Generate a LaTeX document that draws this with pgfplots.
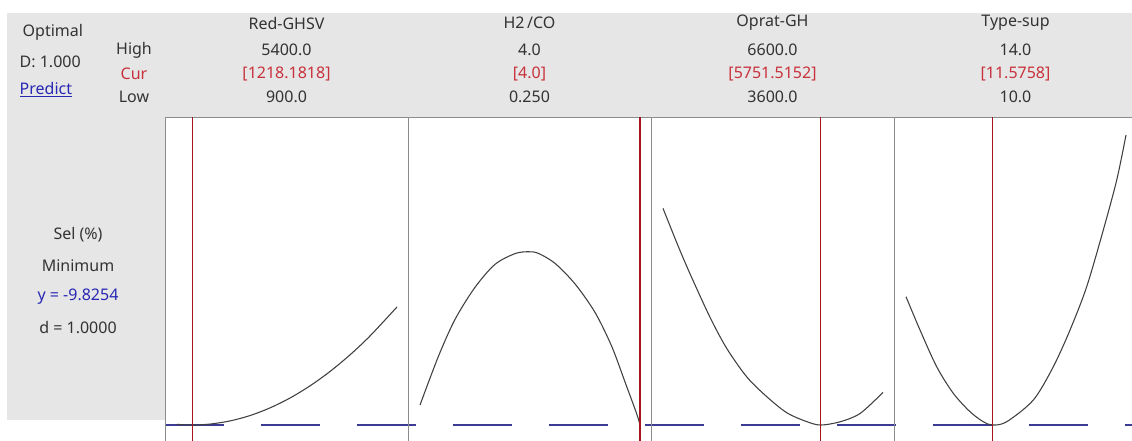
\documentclass[border=0pt]{standalone}
\usepackage{pgfplots}
\pgfplotsset{compat=1.18}
\usepackage{fontspec}
\setmainfont{Noto Sans}
\definecolor{hdr}{HTML}{E6E6E6}
\definecolor{frame}{HTML}{8C8C8C}
\definecolor{curred}{HTML}{A8141E}
\definecolor{txtred}{HTML}{C8323C}
\definecolor{dashblue}{HTML}{3C3C96}
\definecolor{predblue}{HTML}{2828B4}
\definecolor{txt}{HTML}{333333}
\definecolor{curve}{HTML}{404040}

\pgfplotsset{
  panel/.style={scale only axis, width=182.25pt, height=249.75pt,
    anchor=north west, ymin=-14.8254, ymax=51.7746,
    axis line style={frame, line width=0.75pt}, ticks=none, clip=true},
  cur/.style={curred, line width=1pt},
  resp/.style={curve, line width=0.8pt, smooth},
}

\begin{document}
\begin{tikzpicture}[x=0.75pt,y=-0.75pt,font=\fontsize{12}{14}\selectfont]
\useasboundingbox (0,0) rectangle (1132,440);
\clip (0,0) rectangle (1132,440);
\fill[white] (0,0) rectangle (1132,440);
\fill[hdr] (7,13) rectangle (1132,117);
\fill[hdr] (7,13) rectangle (165,420);

% left column
\node[anchor=west, text=txt] at (18,32) {Optimal};
\node[anchor=west, text=txt] at (15,62) {D: 1.000};
\node[anchor=west, text=predblue] at (15,90) {\underline{Predict}};
\node[text=txt] at (134,50) {High};
\node[text=txtred] at (134,74) {Cur};
\node[text=txt] at (134,97) {Low};
\node[text=txt] at (78,235) {Sel (\%)};
\node[text=txt] at (78,266) {Minimum};
\node[text=predblue] at (78,297) {y = -9.8254};
\node[text=txt] at (78,328) {d = 1.0000};

% header texts
\foreach \cx/\t/\h/\c/\l in {286.5/{Red-GHSV}/{5400.0}/{[1218.1818]}/{900.0},
                              529.5/{H2\,/CO}/{4.0}/{[4.0]}/{0.250},
                              772.5/{Oprat-GH}/{6600.0}/{[5751.5152]}/{3600.0},
                              1015.5/{Type-sup}/{14.0}/{[11.5758]}/{10.0}}{
  \node[text=txt] at (\cx,23) {\t};
  \node[text=txt] at (\cx,50) {\h};
  \node[text=txtred] at (\cx,74) {\c};
  \node[text=txt] at (\cx,97) {\l};
}

% dashed line of the predicted response, continuous across panels
\begin{axis}[at={(123.75pt,-87.75pt)}, anchor=north west, scale only axis,
  width=729pt, height=249.75pt, xmin=165, xmax=1137,
  ymin=-14.8254, ymax=51.7746, hide axis, clip=false]
\addplot[dashblue, line width=1.5pt, dash pattern=on 44.25pt off 27.75pt]
  coordinates {(165,-9.8254) (1137,-9.8254)};
\end{axis}

% Panel 1: Red-GHSV
\begin{axis}[panel, at={(123.75pt,-87.75pt)}, xmin=654.55, xmax=5625]
\addplot[resp] coordinates {
 (900,-9.70) (1218.18,-9.83) (1575,-9.64) (1984,-9.01) (2393,-7.94)
 (2802,-6.40) (3211,-4.43) (3620,-2.00) (4030,0.88) (4439,4.21)
 (4848,7.98) (5400,13.79)};
\addplot[cur] coordinates {(1218.1818,-20) (1218.1818,60)};
\end{axis}

% Panel 2: H2/CO
\begin{axis}[panel, at={(306pt,-87.75pt)}, xmin=0.0455, xmax=4.1875]
\addplot[resp] coordinates {
 (0.25,-5.83) (0.562,3.85) (0.847,11.30) (1.187,17.70) (1.528,22.30)
 (1.869,24.45) (2.096,24.83) (2.266,24.51) (2.551,22.51) (2.892,18.40)
 (3.233,12.70) (3.518,5.90) (3.744,-1.20) (3.944,-7.60) (4.0,-9.83)};
\addplot[cur] coordinates {(4.0,-20) (4.0,60)};
\end{axis}

% Panel 3: Oprat-GH
\begin{axis}[panel, at={(488.25pt,-87.75pt)}, xmin=3436.36, xmax=6750]
\addplot[resp] coordinates {
 (3600,33.51) (3791,26.51) (3972,20.30) (4245,11.60) (4473,5.40)
 (4745,-0.25) (5018,-4.20) (5291,-7.40) (5564,-9.17) (5751.5,-9.83)
 (6018,-9.17) (6290,-7.49) (6600,-3.30)};
\addplot[cur] coordinates {(5751.5152,-20) (5751.5152,60)};
\end{axis}

% Panel 4: Type-sup
\begin{axis}[panel, at={(670.5pt,-87.75pt)}, xmin=9.782, xmax=14.2]
\addplot[resp] coordinates {
 (10.0,15.84) (10.255,9.17) (10.558,1.83) (10.860,-3.49) (11.164,-7.17)
 (11.405,-9.17) (11.5758,-9.83) (11.831,-9.17) (12.315,-4.83) (12.678,1.83)
 (12.982,9.17) (13.285,17.83) (13.587,29.17) (13.831,39.17) (14.0,48.17)};
\addplot[cur] coordinates {(11.5758,-20) (11.5758,60)};
\end{axis}
\end{tikzpicture}
\end{document}
